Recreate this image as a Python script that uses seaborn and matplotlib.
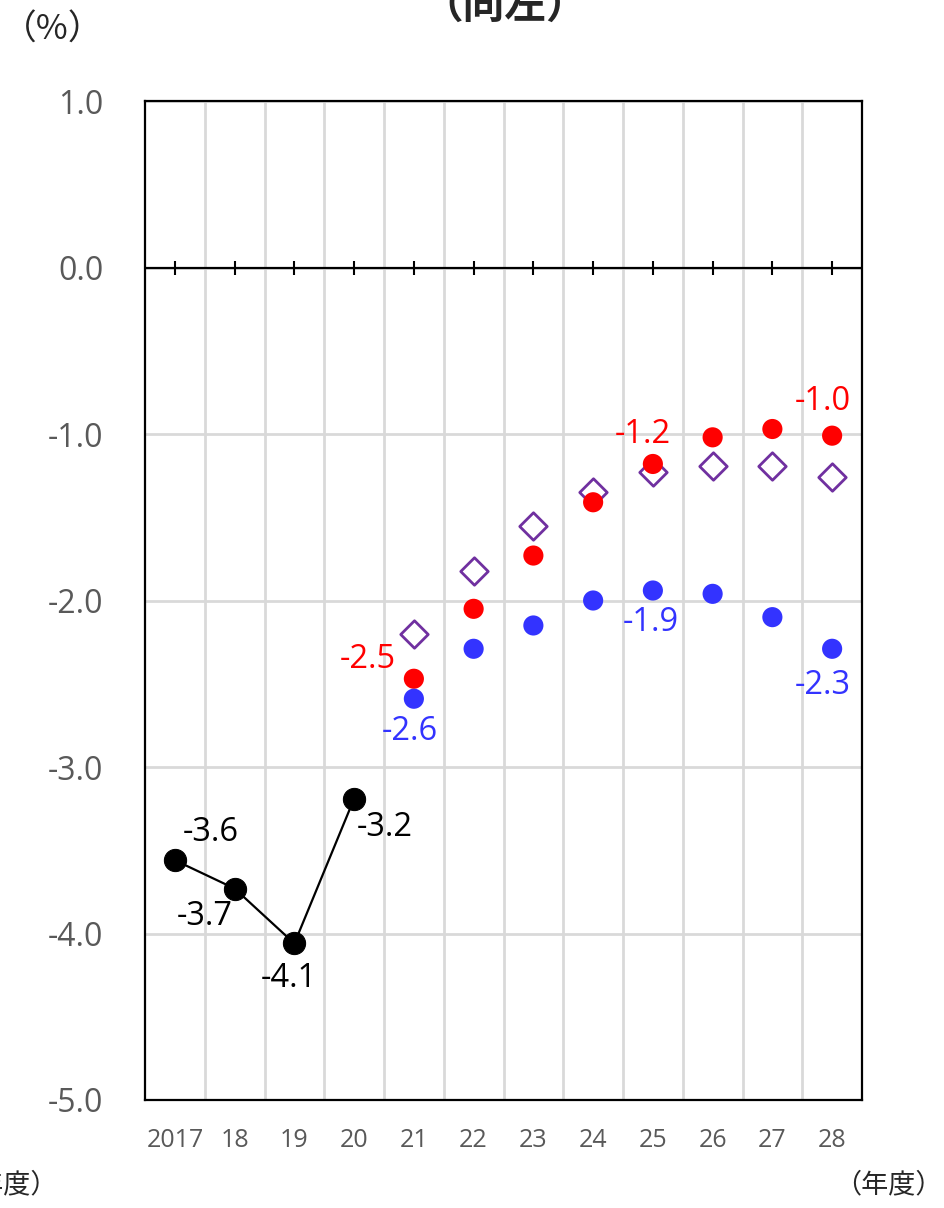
import numpy as np
import pandas as pd
import seaborn as sns
import matplotlib.pyplot as plt

# ----------------------------------------------------------
# Data
# ----------------------------------------------------------
years = ["2017", "18", "19", "20", "21", "22", "23", "24", "25", "26", "27", "28"]

actual_years = ["2017", "18", "19", "20"]
actual = [-3.56, -3.73, -4.06, -3.19]

proj_years = ["21", "22", "23", "24", "25", "26", "27", "28"]
red = [-2.47, -2.05, -1.73, -1.41, -1.18, -1.02, -0.97, -1.01]
blue = [-2.59, -2.29, -2.15, -2.00, -1.94, -1.96, -2.10, -2.29]
purple = [-2.20, -1.82, -1.55, -1.35, -1.23, -1.19, -1.19, -1.26]

yticks = [1.0, 0.0, -1.0, -2.0, -3.0, -4.0, -5.0]

# which points get a value label, and the pixel offset of that label
actual_labels = {"2017": (36, 28), "18": (-30, -28), "19": (-6, -35), "20": (31, -29)}
red_labels = {"21": (-46, 19), "25": (-10, 29), "28": (-9, 34)}
blue_labels = {"21": (-4, -33), "25": (-2, -32), "28": (-9, -37)}

RED = "#FF0000"
BLUE = "#3333FF"
PURPLE = "#7030A0"
GRAY_TXT = "#595959"
GRID = "#D9D9D9"
CJK = ["Noto Sans CJK JP", "DejaVu Sans"]

# ----------------------------------------------------------
# Frames
# ----------------------------------------------------------
pos = {y: i for i, y in enumerate(years)}
df_act = pd.DataFrame({"year": actual_years, "value": actual})
df_act["x"] = df_act["year"].map(pos)
df_proj = pd.DataFrame({"year": proj_years, "red": red, "blue": blue, "purple": purple})
df_proj["x"] = df_proj["year"].map(pos)

# ----------------------------------------------------------
# Plot
# ----------------------------------------------------------
sns.set_style("white")
plt.rcParams["font.family"] = ["Open Sans", "Noto Sans CJK JP", "DejaVu Sans"]

fig = plt.figure(figsize=(9.44, 12.08), dpi=100)
ax = fig.add_axes([145 / 944, 1 - 1100 / 1208, 717 / 944, 999 / 1208])

# grid: horizontal at each 1.0, vertical between categories
for y in yticks:
    ax.axhline(y, color=GRID, lw=2, zorder=0)
for b in np.arange(len(years) - 1) + 0.5:
    ax.axvline(b, color=GRID, lw=2, zorder=0)

# zero line with small cross ticks at category centres
ax.axhline(0, color="black", lw=1.6, zorder=1)
ax.scatter(np.arange(len(years)), np.zeros(len(years)), marker="|", s=110,
           color="black", linewidths=1.5, zorder=2)

# actual values (black line)
sns.lineplot(data=df_act, x="x", y="value", color="black", lw=1.6,
             marker="o", markersize=16, markeredgecolor="black", ax=ax, zorder=5)

# projections
sns.scatterplot(data=df_proj, x="x", y="purple", marker="D", s=14 ** 2,
                facecolor="white", edgecolor=PURPLE, linewidth=2, ax=ax, zorder=3)
sns.scatterplot(data=df_proj, x="x", y="red", color=RED, s=14.5 ** 2,
                edgecolor="none", ax=ax, zorder=4)
sns.scatterplot(data=df_proj, x="x", y="blue", color=BLUE, s=14.5 ** 2,
                edgecolor="none", ax=ax, zorder=4)

# value labels
def label(frame, col, offsets, color):
    for _, row in frame.iterrows():
        if row["year"] in offsets:
            ax.annotate(f"{row[col]:.1f}", (row["x"], row[col]),
                        xytext=offsets[row["year"]], textcoords="offset pixels",
                        ha="center", va="center", fontsize=23.5, color=color, zorder=6)

label(df_act, "value", actual_labels, "black")
label(df_proj, "red", red_labels, RED)
label(df_proj, "blue", blue_labels, BLUE)

# axes
ax.set_xlim(-0.5, len(years) - 0.5)
ax.set_ylim(-5.0, 1.0)
ax.set_xticks(np.arange(len(years)))
ax.set_xticklabels(years)
ax.set_yticks(yticks)
ax.set_yticklabels([f"{v:.1f}" for v in yticks])
ax.tick_params(axis="x", length=0, pad=20, labelsize=18, labelcolor=GRAY_TXT)
ax.tick_params(axis="y", length=0, pad=30, labelsize=23, labelcolor=GRAY_TXT)
ax.set_xlabel("")
ax.set_ylabel("")
for s in ax.spines.values():
    s.set_visible(True)
    s.set_color("black")
    s.set_linewidth(1.6)

# surrounding texts
fig.text(53 / 944, 1 - 30 / 1208, "（%）", ha="center", va="center", fontsize=25,
         family=CJK)
fig.text(505 / 944, 1 - 28 / 1208, "（同左）", ha="center", va="bottom", fontsize=30,
         fontweight="bold", family=CJK)
fig.text(943 / 944, 1 - 1185 / 1208, "（年度）", ha="right", va="center", fontsize=19.5,
         family=CJK)
fig.text(58 / 944, 1 - 1185 / 1208, "（年度）", ha="right", va="center", fontsize=19.5,
         family=CJK)

plt.savefig("out.png", dpi=100)
